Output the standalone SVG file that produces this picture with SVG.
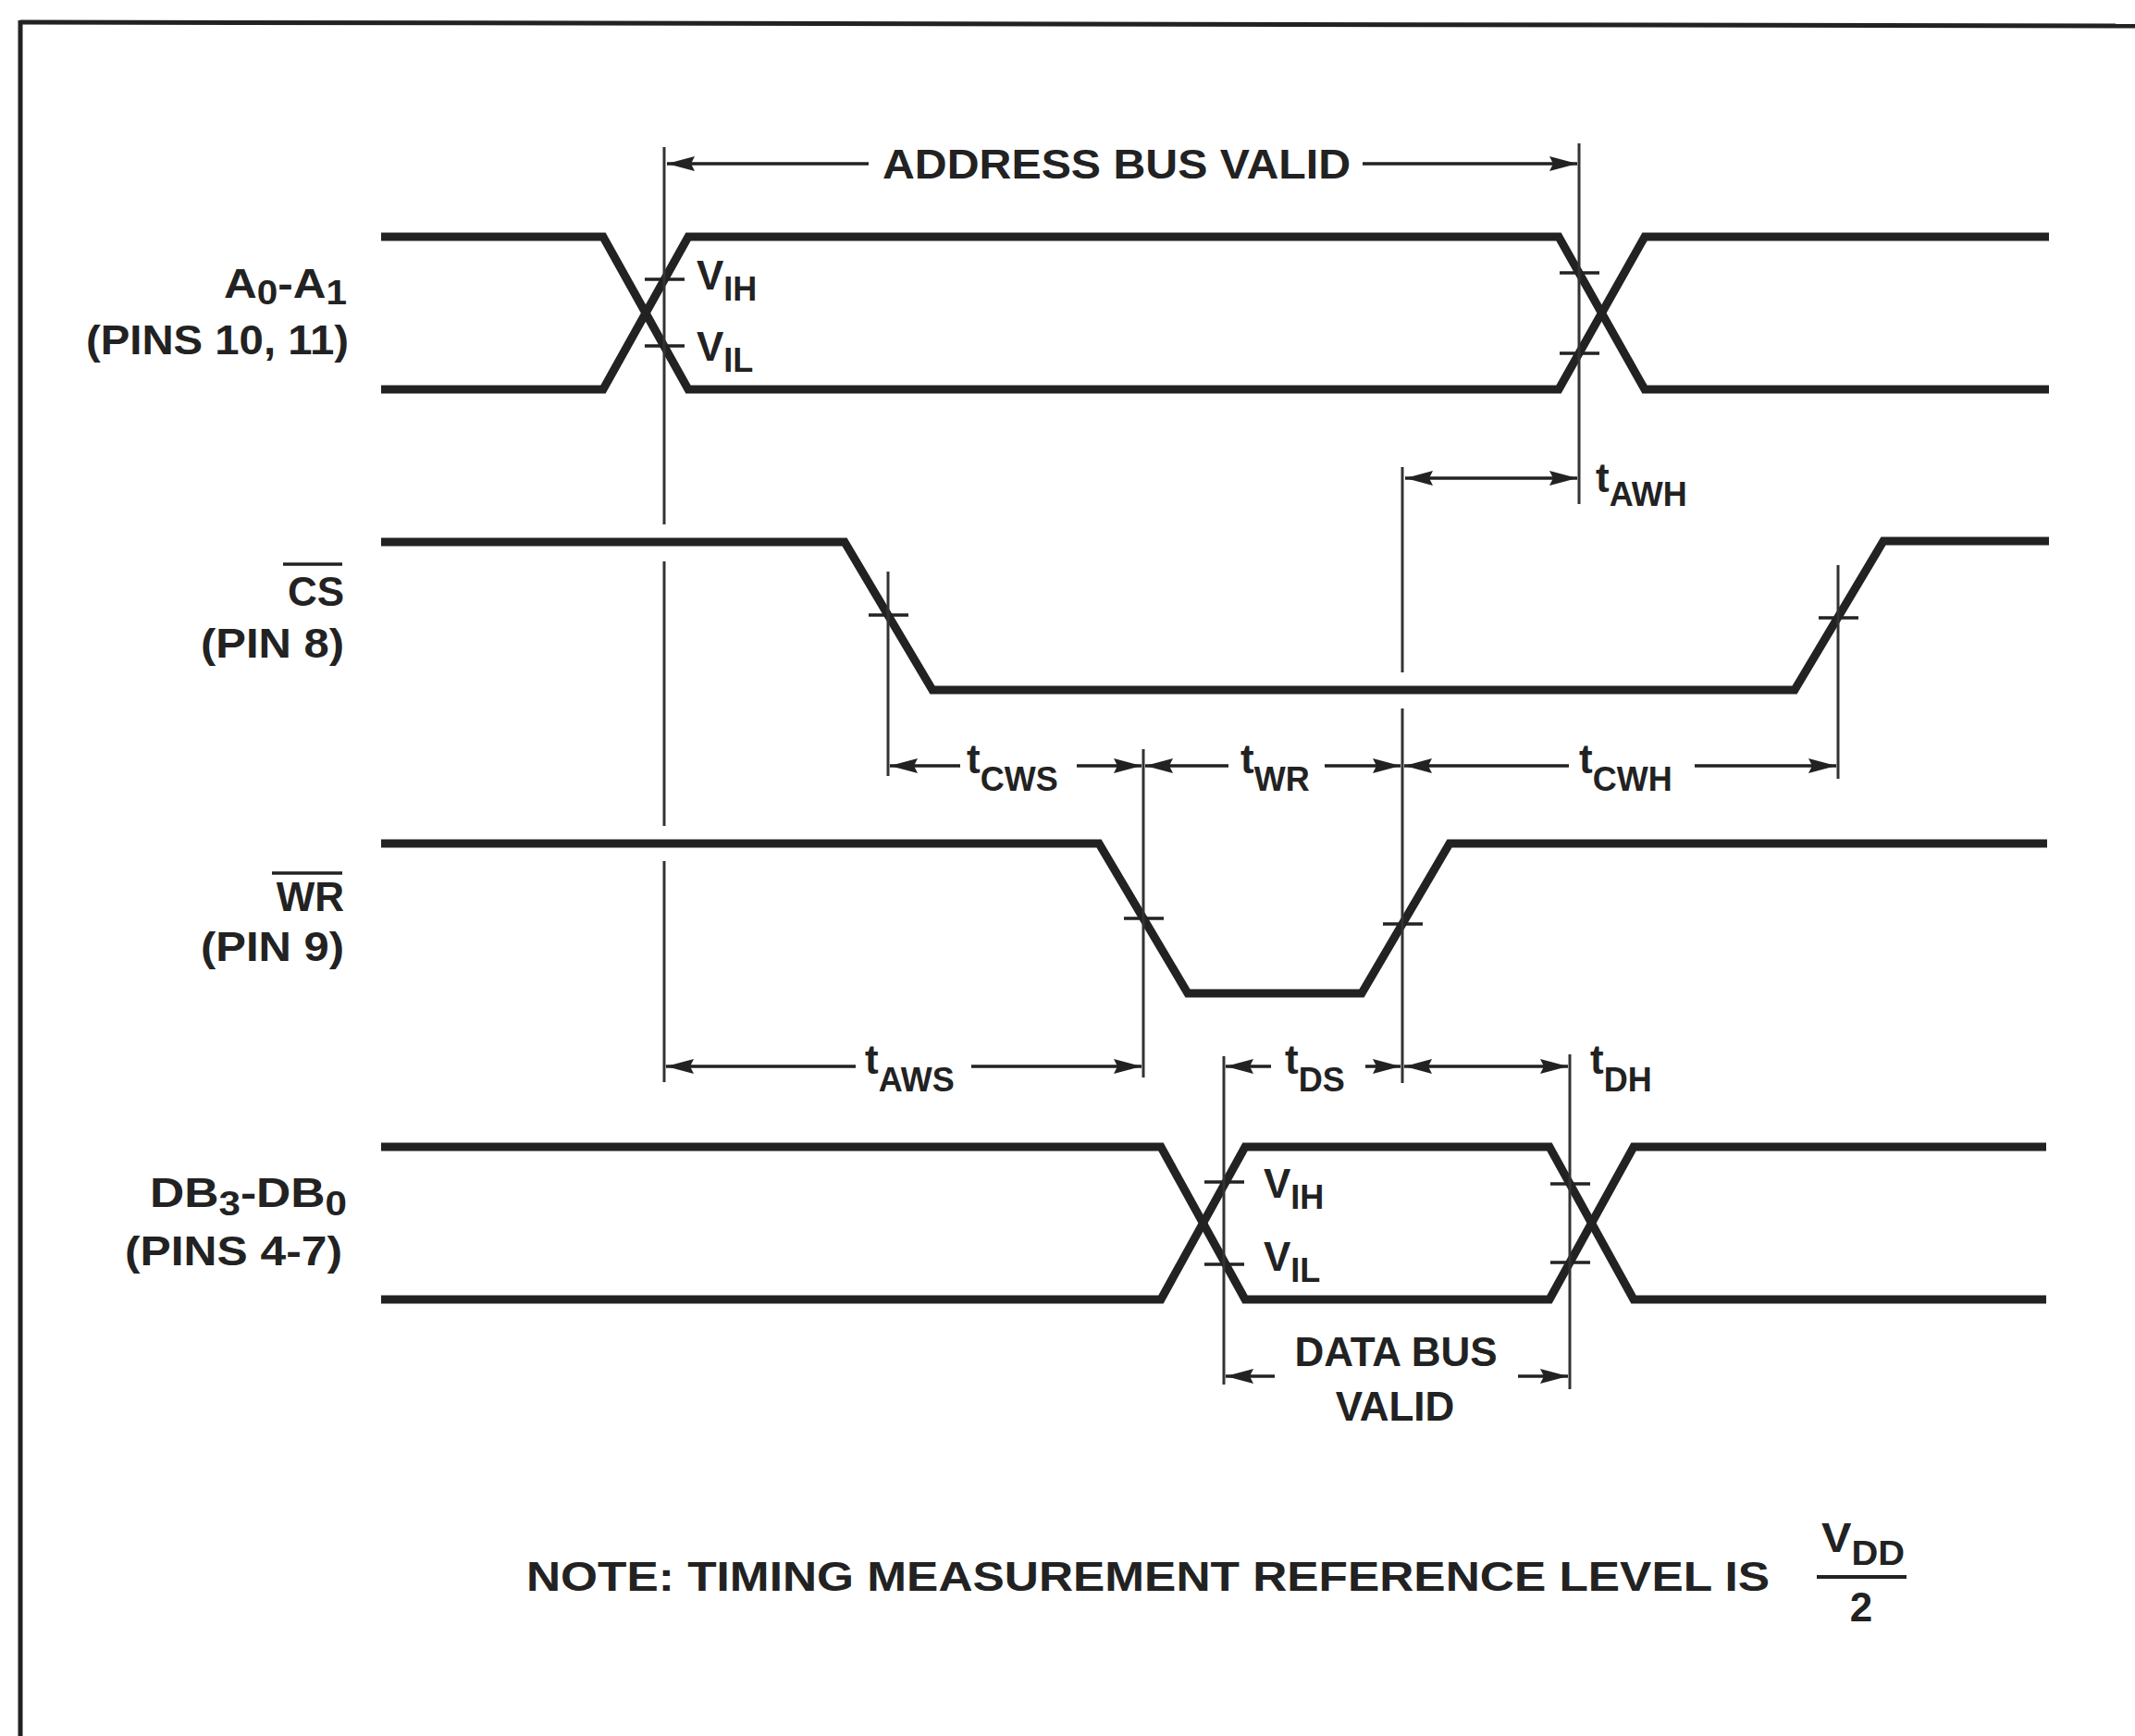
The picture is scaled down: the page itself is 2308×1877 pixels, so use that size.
<svg xmlns="http://www.w3.org/2000/svg" width="2308" height="1877" viewBox="0 0 2308 1877">
<style>
.sig{fill:none;stroke:#222;stroke-width:9;stroke-linejoin:miter;stroke-linecap:butt}
.thin{fill:none;stroke:#333;stroke-width:3}
.tick{fill:none;stroke:#222;stroke-width:3.5}
.arr{fill:none;stroke:#222;stroke-width:3.5}
.frame{fill:none;stroke:#222;stroke-width:5}
text{font-family:"Liberation Sans",Arial,Helvetica,sans-serif;font-weight:bold;fill:#222;font-size:44px}
.sub{font-size:36px}
</style>
<defs>
<marker id="ah" viewBox="0 0 30 16" refX="30" refY="8" markerWidth="30" markerHeight="16" orient="auto-start-reverse" markerUnits="userSpaceOnUse">
<path d="M0,0 L30,8 L0,16 L4,8 z" fill="#222"/>
</marker>
</defs>
<rect width="2308" height="1877" fill="#fff"/>
<g id="frame">
<line class="frame" x1="22" y1="24" x2="2308" y2="28"/>
<line class="frame" x1="22" y1="22" x2="22" y2="1877"/>
</g>

<g id="sig-a0a1">
<path class="sig" d="M412,256 L652,256 L744,421 L1685,421 L1778,256 L2215,256"/>
<path class="sig" d="M412,421 L652,421 L744,256 L1685,256 L1778,421 L2215,421"/>
<line class="tick" x1="697" y1="302" x2="740" y2="302"/>
<line class="tick" x1="697" y1="374" x2="740" y2="374"/>
<line class="tick" x1="1686" y1="295" x2="1729" y2="295"/>
<line class="tick" x1="1686" y1="382" x2="1729" y2="382"/>
<text x="753" y="313">V<tspan class="sub" dy="12">IH</tspan></text>
<text x="753" y="390">V<tspan class="sub" dy="12">IL</tspan></text>
</g>
<g id="label-a0a1">
<text x="375" y="322" text-anchor="end" textLength="133" lengthAdjust="spacingAndGlyphs">A<tspan class="sub" dy="7">0</tspan><tspan dy="-7">-A</tspan><tspan class="sub" dy="7">1</tspan></text>
<text x="377" y="383" text-anchor="end" textLength="284" lengthAdjust="spacingAndGlyphs">(PINS 10, 11)</text>
</g>

<g id="sig-cs">
<path class="sig" d="M412,586 L913,586 L1008,746 L1940,746 L2036,585 L2215,585"/>
<line class="tick" x1="939" y1="665" x2="982" y2="665"/>
<line class="tick" x1="1966" y1="668" x2="2009" y2="668"/>
</g>
<g id="label-cs">
<line class="tick" x1="306" y1="610" x2="370" y2="610"/>
<text x="372" y="655" text-anchor="end">CS</text>
<text x="372" y="711" text-anchor="end" textLength="155" lengthAdjust="spacingAndGlyphs">(PIN 8)</text>
</g>

<g id="sig-wr">
<path class="sig" d="M412,912 L1188,912 L1284,1074 L1472,1074 L1567,912 L2213,912"/>
<line class="tick" x1="1215" y1="993" x2="1258" y2="993"/>
<line class="tick" x1="1495" y1="999" x2="1538" y2="999"/>
</g>
<g id="label-wr">
<line class="tick" x1="294" y1="944" x2="370" y2="944"/>
<text x="372" y="985" text-anchor="end">WR</text>
<text x="372" y="1039" text-anchor="end" textLength="155" lengthAdjust="spacingAndGlyphs">(PIN 9)</text>
</g>

<g id="sig-db">
<path class="sig" d="M412,1240 L1255,1240 L1346,1405 L1675,1405 L1766,1240 L2212,1240"/>
<path class="sig" d="M412,1405 L1255,1405 L1346,1240 L1675,1240 L1766,1405 L2212,1405"/>
<line class="tick" x1="1302" y1="1278" x2="1345" y2="1278"/>
<line class="tick" x1="1302" y1="1367" x2="1345" y2="1367"/>
<line class="tick" x1="1676" y1="1280" x2="1719" y2="1280"/>
<line class="tick" x1="1676" y1="1365" x2="1719" y2="1365"/>
<text x="1366" y="1295">V<tspan class="sub" dy="12">IH</tspan></text>
<text x="1366" y="1374">V<tspan class="sub" dy="12">IL</tspan></text>
</g>
<g id="label-db">
<text x="375" y="1305" text-anchor="end" textLength="213" lengthAdjust="spacingAndGlyphs">DB<tspan class="sub" dy="9">3</tspan><tspan dy="-9">-DB</tspan><tspan class="sub" dy="9">0</tspan></text>
<text x="370" y="1368" text-anchor="end" textLength="235" lengthAdjust="spacingAndGlyphs">(PINS 4-7)</text>
</g>

<g id="connectors">
<line class="thin" x1="718" y1="159" x2="718" y2="567"/>
<line class="thin" x1="718" y1="607" x2="718" y2="893"/>
<line class="thin" x1="718" y1="931" x2="718" y2="1170"/>
<line class="thin" x1="1707" y1="155" x2="1707" y2="545"/>
<line class="thin" x1="1516" y1="505" x2="1516" y2="727"/>
<line class="thin" x1="1516" y1="766" x2="1516" y2="1171"/>
<line class="thin" x1="1236" y1="810" x2="1236" y2="1165"/>
<line class="thin" x1="960" y1="618" x2="960" y2="839"/>
<line class="thin" x1="1987" y1="611" x2="1987" y2="842"/>
<line class="thin" x1="1323" y1="1142" x2="1323" y2="1497"/>
<line class="thin" x1="1697" y1="1140" x2="1697" y2="1502"/>

<line class="arr" x1="939" y1="177" x2="721" y2="177" marker-end="url(#ah)"/>
<line class="arr" x1="1473" y1="177" x2="1705" y2="177" marker-end="url(#ah)"/>
<line class="arr" x1="1519" y1="517" x2="1705" y2="517" marker-start="url(#ah)" marker-end="url(#ah)"/>
<line class="arr" x1="1038" y1="828" x2="962" y2="828" marker-end="url(#ah)"/>
<line class="arr" x1="1164" y1="828" x2="1234" y2="828" marker-end="url(#ah)"/>
<line class="arr" x1="1328" y1="828" x2="1238" y2="828" marker-end="url(#ah)"/>
<line class="arr" x1="1432" y1="828" x2="1514" y2="828" marker-end="url(#ah)"/>
<line class="arr" x1="1696" y1="828" x2="1518" y2="828" marker-end="url(#ah)"/>
<line class="arr" x1="1832" y1="828" x2="1985" y2="828" marker-end="url(#ah)"/>
<line class="arr" x1="925" y1="1153" x2="720" y2="1153" marker-end="url(#ah)"/>
<line class="arr" x1="1050" y1="1153" x2="1234" y2="1153" marker-end="url(#ah)"/>
<line class="arr" x1="1374" y1="1153" x2="1325" y2="1153" marker-end="url(#ah)"/>
<line class="arr" x1="1476" y1="1153" x2="1514" y2="1153" marker-end="url(#ah)"/>
<line class="arr" x1="1518" y1="1153" x2="1695" y2="1153" marker-start="url(#ah)" marker-end="url(#ah)"/>
<line class="arr" x1="1378" y1="1488" x2="1325" y2="1488" marker-end="url(#ah)"/>
<line class="arr" x1="1641" y1="1488" x2="1695" y2="1488" marker-end="url(#ah)"/>
</g>

<g id="timing-labels">
<text x="954" y="193" textLength="506" lengthAdjust="spacingAndGlyphs">ADDRESS BUS VALID</text>
<text x="1725" y="532">t<tspan class="sub" dy="15">AWH</tspan></text>
<text x="1045" y="836">t<tspan class="sub" dy="19">CWS</tspan></text>
<text x="1341" y="836">t<tspan class="sub" dy="19">WR</tspan></text>
<text x="1707" y="836">t<tspan class="sub" dy="19">CWH</tspan></text>
<text x="935" y="1161">t<tspan class="sub" dy="19">AWS</tspan></text>
<text x="1389" y="1161">t<tspan class="sub" dy="19">DS</tspan></text>
<text x="1719" y="1161">t<tspan class="sub" dy="19">DH</tspan></text>
<text x="1509" y="1477" text-anchor="middle">DATA BUS</text>
<text x="1508" y="1536" text-anchor="middle">VALID</text>
</g>

<g id="note">
<text x="569" y="1720" textLength="1344" lengthAdjust="spacingAndGlyphs">NOTE: TIMING MEASUREMENT REFERENCE LEVEL IS</text>
<text x="1969" y="1678" textLength="90" lengthAdjust="spacingAndGlyphs">V<tspan class="sub" dy="14">DD</tspan></text>
<line x1="1964" y1="1705" x2="2061" y2="1705" stroke="#222" stroke-width="4"/>
<text x="2012" y="1753" text-anchor="middle">2</text>
</g>
</svg>
